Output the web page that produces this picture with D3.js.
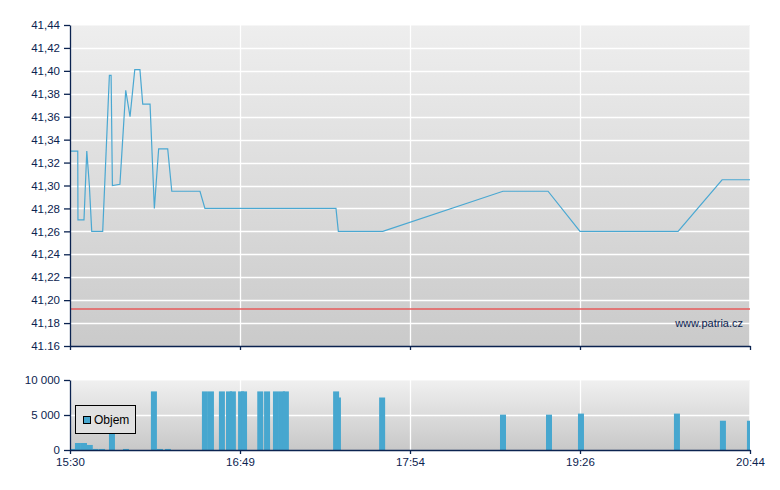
<!DOCTYPE html>
<html><head><meta charset="utf-8">
<script src="https://cdn.jsdelivr.net/npm/d3@7"></script>
<style>body{margin:0;background:#fff}svg{display:block}</style>
</head><body>
<svg id="c" width="780" height="490"></svg>
<script>
// ---- data ----
// time axis ticks (minutes after 15:30) and their labels; ticks are evenly spaced on the chart
const timeTicks = [0, 79, 144, 236, 314];
const timeLabels = ["15:30", "16:49", "17:54", "19:26", "20:44"];
// price line: minutes after 15:30 and price
const priceTimes = [0, 3.6, 3.7, 6.5, 7.8, 9.0, 10.1, 15.2, 18.3, 19.1, 19.7, 23.2, 25.9, 27.9, 30.1, 32.5, 33.8, 37.2, 39.2, 41.2, 45.4, 47.3, 60.4, 62.7, 115.7, 116.6, 133.6, 194.3, 218.7, 236, 281, 301.2, 314];
const priceValues = [41.33, 41.33, 41.27, 41.27, 41.33, 41.30, 41.26, 41.26, 41.396, 41.396, 41.30, 41.301, 41.383, 41.36, 41.401, 41.401, 41.371, 41.371, 41.28, 41.332, 41.332, 41.295, 41.295, 41.28, 41.28, 41.26, 41.26, 41.295, 41.295, 41.26, 41.26, 41.305, 41.305];
const refPrice = 41.192;
const priceTicks = [41.16, 41.18, 41.20, 41.22, 41.24, 41.26, 41.28, 41.30, 41.32, 41.34, 41.36, 41.38, 41.40, 41.42, 41.44];
const priceTickLabels = ["41.16", "41,18", "41,20", "41,22", "41,24", "41,26", "41,28", "41,30", "41,32", "41,34", "41,36", "41,38", "41,40", "41,42", "41,44"];
// volume bars: minutes after 15:30 and volume
const volTimes = [0, 2.3, 5.1, 7.8, 10.5, 13.5, 18.1, 24.6, 37.6, 40.4, 44.1, 61.3, 64.1, 69.2, 72.5, 74.3, 78.1, 79.4, 85.6, 88.2, 91.6, 93.9, 95.4, 114.6, 115.3, 132.2, 192.7, 217.6, 234.9, 279.1, 300.2, 312.6];
const volValues = [150, 1000, 1000, 720, 150, 150, 3460, 150, 8370, 150, 150, 8370, 8370, 8370, 8370, 8370, 8370, 8370, 8370, 8370, 8370, 8370, 8370, 8370, 7500, 7500, 5050, 5050, 5200, 5200, 4180, 4180];
const volTicks = [0, 5000, 10000];
const volTickLabels = ["0", "5 000", "10 000"];
const legendLabel = "Objem";
const watermark = "www.patria.cz";

// ---- drawing ----
const svg = d3.select("#c");
const L = 70, R = 750;
const P = {top: 25, bottom: 346};
const V = {top: 380, bottom: 450};
const navy = "#0b2350";
const font = "'Liberation Sans', Arial, sans-serif";

const x = d3.scaleLinear().domain(timeTicks).range(timeTicks.map((d, i) => L + i * (R - L) / (timeTicks.length - 1)));
const y = d3.scaleLinear().domain([41.16, 41.44]).range([P.bottom, P.top]);
const yv = d3.scaleLinear().domain([0, 10000]).range([V.bottom, V.top]);

const defs = svg.append("defs");
function grad(id, c1, c2) {
  const g = defs.append("linearGradient").attr("id", id).attr("x1", 0).attr("y1", 0).attr("x2", 0).attr("y2", 1);
  g.append("stop").attr("offset", "0%").attr("stop-color", c1);
  g.append("stop").attr("offset", "100%").attr("stop-color", c2);
}
grad("gp", "#eeeeee", "#cacaca");
grad("gv", "#f0f0f0", "#c8c8c8");
defs.append("clipPath").attr("id", "cp").append("rect").attr("x", L).attr("y", P.top).attr("width", R - L).attr("height", P.bottom - P.top);
defs.append("clipPath").attr("id", "cv").append("rect").attr("x", L).attr("y", V.top).attr("width", R - L).attr("height", V.bottom - V.top);

// backgrounds
svg.append("rect").attr("x", L).attr("y", P.top).attr("width", R - L).attr("height", P.bottom - P.top).attr("fill", "url(#gp)");
svg.append("rect").attr("x", L).attr("y", V.top).attr("width", R - L).attr("height", V.bottom - V.top).attr("fill", "url(#gv)");
[[P.top, P.bottom], [V.top, V.bottom]].forEach(([t, b]) => {
  svg.append("path").attr("d", `M${L},${t + 0.5}H${R - 0.5}V${b}`).attr("fill", "none").attr("stroke", "#f6f6f6").attr("stroke-width", 1);
});

// grid
const gp = svg.append("g");
gp.selectAll("line.h").data(priceTicks.slice(1, -1)).join("line")
  .attr("x1", L).attr("x2", R).attr("y1", d => Math.round(y(d)) + 0.5).attr("y2", d => Math.round(y(d)) + 0.5)
  .attr("stroke", "#fff").attr("stroke-width", 1.3);
gp.selectAll("line.v").data(timeTicks.slice(1, -1)).join("line")
  .attr("x1", d => Math.round(x(d)) + 0.5).attr("x2", d => Math.round(x(d)) + 0.5).attr("y1", P.top).attr("y2", P.bottom)
  .attr("stroke", "#fff").attr("stroke-width", 1.3);
const gv = svg.append("g");
gv.selectAll("line.h").data([5000]).join("line")
  .attr("x1", L).attr("x2", R).attr("y1", d => Math.round(yv(d)) + 0.5).attr("y2", d => Math.round(yv(d)) + 0.5)
  .attr("stroke", "#fff").attr("stroke-width", 1.3);
gv.selectAll("line.v").data(timeTicks.slice(1, -1)).join("line")
  .attr("x1", d => Math.round(x(d)) + 0.5).attr("x2", d => Math.round(x(d)) + 0.5).attr("y1", V.top).attr("y2", V.bottom)
  .attr("stroke", "#fff").attr("stroke-width", 1.3);

// reference line
svg.append("line").attr("x1", L).attr("x2", R).attr("y1", Math.round(y(refPrice))).attr("y2", Math.round(y(refPrice)))
  .attr("stroke", "#e65a5a").attr("stroke-width", 1.6);

// watermark
svg.append("text").attr("x", 743).attr("y", 327).attr("text-anchor", "end")
  .attr("font-family", font).attr("font-size", 11).attr("fill", navy).text(watermark);

// price line
const pts = priceTimes.map((t, i) => [t, priceValues[i]]);
svg.append("path").datum(pts).attr("clip-path", "url(#cp)")
  .attr("d", d3.line().x(d => x(d[0])).y(d => y(d[1])))
  .attr("fill", "none").attr("stroke", "#4aa8d2").attr("stroke-width", 1.2);

// volume bars
const bars = volTimes.map((t, i) => [t, volValues[i]]);
svg.append("g").attr("clip-path", "url(#cv)").selectAll("rect").data(bars).join("rect")
  .attr("x", d => x(d[0])).attr("width", 6)
  .attr("y", d => yv(d[1])).attr("height", d => yv(0) - yv(d[1]))
  .attr("fill", "#47a7cf");

// axes
function styleAxis(g) {
  g.selectAll("path.domain").attr("stroke", navy).attr("stroke-width", 1.3);
  g.selectAll(".tick line").attr("stroke", navy).attr("stroke-width", 1.3);
  g.selectAll("text").attr("fill", navy).attr("font-family", font).attr("font-size", 11.5);
}
const ya = svg.append("g").attr("transform", `translate(${L},0)`)
  .call(d3.axisLeft(y).tickValues(priceTicks).tickFormat((d, i) => priceTickLabels[i]).tickSize(6).tickSizeOuter(0).tickPadding(4));
styleAxis(ya);
const xa1 = svg.append("g").attr("transform", `translate(0,${P.bottom})`)
  .call(d3.axisBottom(x).tickValues(timeTicks).tickFormat("").tickSize(4).tickSizeOuter(0));
styleAxis(xa1);
const yva = svg.append("g").attr("transform", `translate(${L},0)`)
  .call(d3.axisLeft(yv).tickValues(volTicks).tickFormat((d, i) => volTickLabels[i]).tickSize(6).tickSizeOuter(0).tickPadding(4));
styleAxis(yva);
yva.selectAll(".tick text").attr("dy", "0.28em");
const xa2 = svg.append("g").attr("transform", `translate(0,${V.bottom})`)
  .call(d3.axisBottom(x).tickValues(timeTicks).tickFormat((d, i) => timeLabels[i]).tickSize(4).tickSizeOuter(0).tickPadding(4));
styleAxis(xa2);

// legend
const lg = svg.append("g");
lg.append("rect").attr("x", 75.5).attr("y", 405.5).attr("width", 60).attr("height", 28)
  .attr("fill", "#e1e1e1").attr("stroke", "#000").attr("stroke-width", 1);
lg.append("rect").attr("x", 83.5).attr("y", 416.5).attr("width", 7).attr("height", 7)
  .attr("fill", "#47a7cf").attr("stroke", "#000").attr("stroke-width", 1);
lg.append("text").attr("x", 94).attr("y", 424).attr("font-family", font).attr("font-size", 12).attr("fill", "#000").text(legendLabel);
</script>
</body></html>
